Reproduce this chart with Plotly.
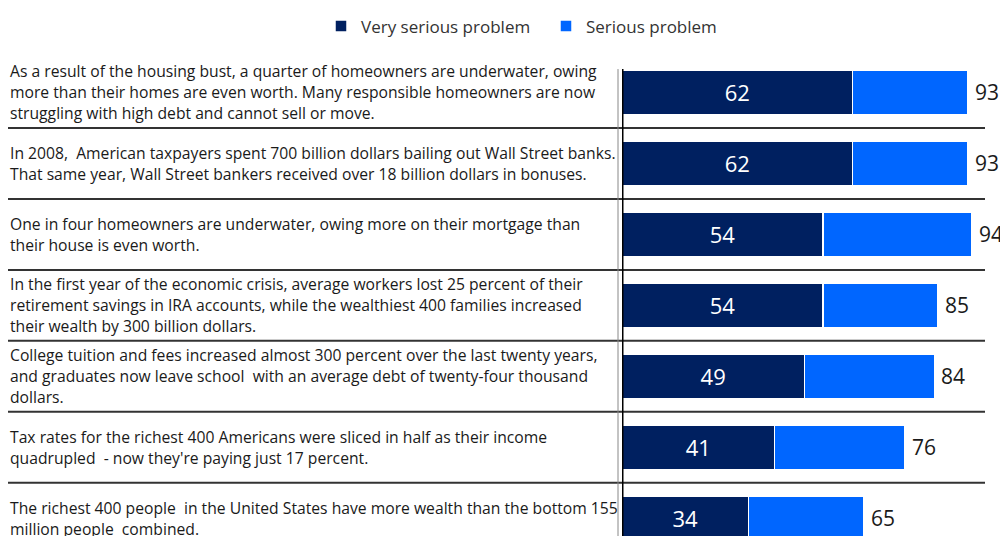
import plotly.graph_objects as go

# ---- data ----
statements = [
    "As a result of the housing bust, a quarter of homeowners are underwater, owing<br>more than their homes are even worth. Many responsible homeowners are now<br>struggling with high debt and cannot sell or move.",
    "In 2008,  American taxpayers spent 700 billion dollars bailing out Wall Street banks.<br>That same year, Wall Street bankers received over 18 billion dollars in bonuses.",
    "One in four homeowners are underwater, owing more on their mortgage than<br>their house is even worth.",
    "In the first year of the economic crisis, average workers lost 25 percent of their<br>retirement savings in IRA accounts, while the wealthiest 400 families increased<br>their wealth by 300 billion dollars.",
    "College tuition and fees increased almost 300 percent over the last twenty years,<br>and graduates now leave school  with an average debt of twenty-four thousand<br>dollars.",
    "Tax rates for the richest 400 Americans were sliced in half as their income<br>quadrupled  - now they're paying just 17 percent.",
    "The richest 400 people  in the United States have more wealth than the bottom 155<br>million people  combined.",
]
very_serious = [62, 62, 54, 54, 49, 41, 34]
total_serious = [93, 93, 94, 85, 84, 76, 65]
serious_only = [t - v for t, v in zip(total_serious, very_serious)]
series_names = ["Very serious problem", "Serious problem"]
colors = ["#002060", "#0066FF"]

FONT = "Open Sans"
rows = list(range(len(statements)))

W, H = 1000, 528
L, R, T = 614, 14, 42
PW = W - L - R  # plot width in px
PH = H - T
ROW = 72  # px per category row

fig = go.Figure()
fig.add_trace(go.Bar(
    y=rows, x=very_serious, orientation="h", name=series_names[0],
    marker=dict(color=colors[0], line=dict(color="white", width=1.5)),
    width=0.62, text=very_serious, textposition="inside",
    insidetextanchor="middle", textangle=0,
    textfont=dict(color="white", size=22, family=FONT),
))
fig.add_trace(go.Bar(
    y=rows, x=serious_only, orientation="h", name=series_names[1],
    marker=dict(color=colors[1], line=dict(color="white", width=1.5)),
    width=0.62, hoverinfo="skip",
))

annotations = []
# totals at the right end of each bar
for r, t in zip(rows, total_serious):
    annotations.append(dict(x=t, y=r, xref="x", yref="y", text=str(t),
                            showarrow=False, xanchor="left", xshift=5,
                            font=dict(size=21, color="#1a1a1a", family=FONT)))
# statement texts on the left
LINE = 21
for r, s in zip(rows, statements):
    lines = s.split("<br>")
    n = len(lines)
    for i, ln in enumerate(lines):
        annotations.append(dict(x=-L / PW, y=r, xref="paper", yref="y",
                                text=ln, showarrow=False, xanchor="left", align="left",
                                yshift=((n - 1) / 2 - i) * LINE,
                                font=dict(size=15.7, color="#1a1a1a", family=FONT)))

shapes = []
# row separators
for k in range(len(statements) - 1):
    shapes.append(dict(type="line", xref="paper", yref="y",
                       x0=-L / PW, x1=(977 - L) / PW, y0=k + 0.5, y1=k + 0.5,
                       line=dict(color="#333333", width=2)))
# table border and axis line
shapes.append(dict(type="line", xref="paper", yref="y", x0=-4 / PW, x1=-4 / PW,
                   y0=-0.33, y1=6.5, line=dict(color="#888888", width=1)))
shapes.append(dict(type="line", xref="x", yref="y", x0=0, x1=0,
                   y0=-0.33, y1=6.5, line=dict(color="black", width=3)))

fig.update_layout(
    width=W, height=H,
    margin=dict(l=L, r=R, t=T, b=0),
    paper_bgcolor="white", plot_bgcolor="white",
    barmode="stack", bargap=0.38,
    font=dict(family=FONT, color="#1a1a1a"),
    xaxis=dict(range=[0, 100], visible=False, fixedrange=True),
    yaxis=dict(range=[-0.5 + PH / ROW, -0.5], visible=False, fixedrange=True),
    legend=dict(orientation="h", x=(313 - L) / PW, xanchor="left", y=1 + (T - 11) / PH,
                yanchor="middle",
                font=dict(size=17, color="#333333", family=FONT),
                itemwidth=30, traceorder="normal",
                entrywidth=180, entrywidthmode="pixels"),
    annotations=annotations, shapes=shapes,
    showlegend=True,
)

fig.write_html("out.html")
